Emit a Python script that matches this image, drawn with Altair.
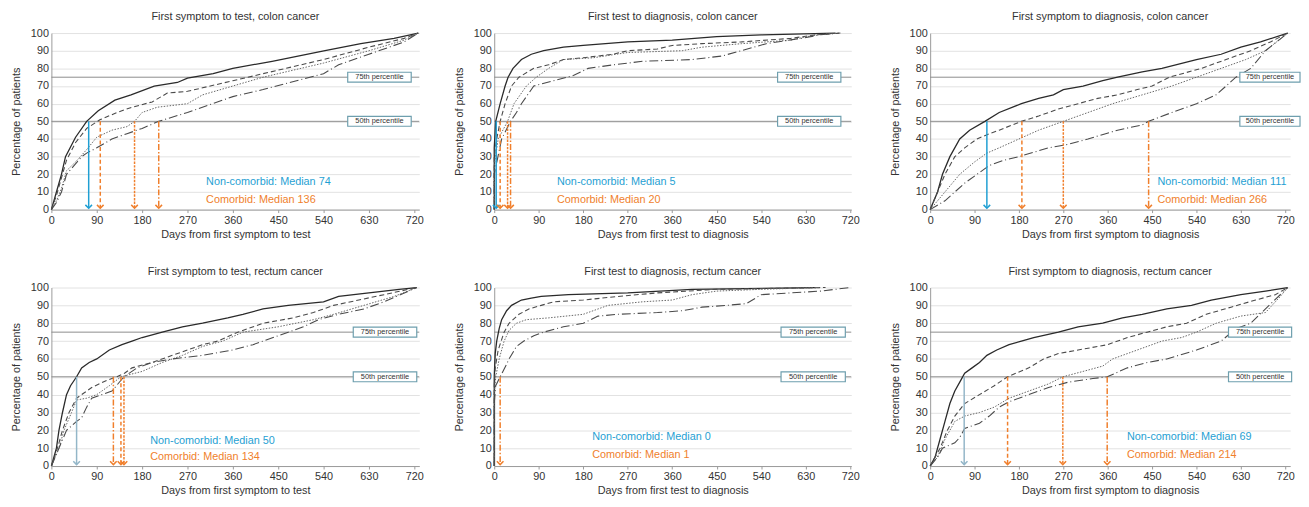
import altair as alt
import pandas as pd

FONT = "Liberation Sans"
X_TICKS = [0, 90, 180, 270, 360, 450, 540, 630, 720]
Y_TICKS = list(range(0, 101, 10))

BLUE = "#1f9fd3"
PALE_BLUE = "#93b6c8"
ORANGE = "#f07f2c"
BOX = "#6e9fae"

# ---------- curves: (day, percentage) ----------
# Panel 1: First symptom to test, colon cancer
p1_solid = [(0,0),(10,10),(20,20),(28,30),(48,41),(70,50),(93,56),(126,62),(158,65),(204,70),(250,72),(270,74.5),(321,77),(360,80),(438,84),(543,90),(614,94),(680,97),(728,100)]
p1_dashed = [(0,0),(10,8),(20,18),(30,28),(48,38),(70,46),(97,51),(130,55),(160,58),(200,61),(230,66),(270,67),(300,69),(360,73),(450,79),(540,85),(630,92),(700,97),(728,100)]
p1_dotted = [(0,0),(10,5),(20,12),(30,22),(48,27),(70,34),(90,41),(120,45),(150,47),(165,50),(180,55),(210,58),(270,60),(300,65),(360,70),(420,75),(450,77),(540,83),(630,90),(700,96),(728,100)]
p1_dashdot = [(0,0),(10,4),(20,10),(30,20),(60,30),(70,32),(90,35),(120,40),(150,43),(180,46),(213,50),(270,55),(360,64),(420,68),(500,74),(540,77),(570,82),(630,88),(700,95),(728,100)]

# Panel 2: First test to diagnosis, colon cancer
p2_solid = [(0,0),(0,35),(3,50),(12,60),(22,70),(28,75),(38,80),(55,85),(75,88),(100,90),(140,92),(180,93),(270,95),(360,96),(450,98),(540,99),(690,100)]
p2_dashed = [(0,0),(0,30),(5,40),(12,50),(22,60),(35,70),(50,75),(80,80),(110,82),(140,85),(180,86),(240,88),(270,90),(330,91),(360,93),(420,94),(500,95),(600,97),(650,99),(700,100)]
p2_dotted = [(0,0),(0,25),(8,40),(27,50),(40,60),(65,70),(85,75),(110,80),(140,85),(200,86),(270,89),(380,90),(420,92),(500,94),(600,96),(650,99),(700,100)]
p2_dashdot = [(0,0),(0,20),(15,40),(33,50),(45,55),(55,60),(80,70),(120,73),(160,76),(190,80),(240,82),(300,84),(400,85),(460,87),(500,90),(550,94),(620,97),(660,99),(700,100)]

# Panel 3: First symptom to diagnosis, colon cancer
p3_solid = [(0,0),(15,10),(25,20),(40,30),(60,40),(80,45),(111,50),(140,55),(185,60),(220,63),(250,65),(270,68),(310,70),(350,73),(380,75),(430,78),(470,80),(540,85),(590,88),(630,92),(670,95),(725,100)]
p3_dashed = [(0,0),(15,10),(30,20),(50,30),(70,35),(95,40),(120,43),(140,45),(185,50),(220,53),(260,57),(300,60),(340,63),(380,65),(420,68),(450,70),(485,75),(550,80),(600,85),(650,90),(690,95),(725,100)]
p3_dotted = [(0,0),(15,5),(30,10),(60,20),(90,27),(115,32),(140,35),(180,40),(220,45),(270,50),(320,55),(370,60),(430,65),(490,70),(540,75),(590,80),(640,85),(680,90),(725,100)]
p3_dashdot = [(0,0),(30,5),(50,10),(70,15),(95,20),(120,25),(150,28),(180,30),(240,35),(280,37),(320,40),(380,45),(430,48),(443,50),(490,55),(540,60),(580,65),(620,75),(650,80),(680,90),(725,100)]

# Panel 4: First symptom to test, rectum cancer
p4_solid = [(0,0),(10,10),(15,20),(22,30),(30,40),(38,45),(50,50),(60,55),(75,58),(90,60),(115,65),(140,68),(160,70),(180,72),(220,75),(260,78),(300,80),(350,83),(380,85),(420,88),(470,90),(540,92),(570,95),(630,97),(690,99),(725,100)]
p4_dashed = [(0,0),(12,10),(22,20),(35,30),(50,38),(60,40),(80,44),(110,48),(130,50),(145,52),(160,55),(200,58),(240,62),(270,65),(300,68),(330,70),(370,75),(420,80),(480,83),(520,86),(560,90),(610,93),(660,96),(725,100)]
p4_dotted = [(0,0),(15,10),(25,20),(40,30),(50,37),(70,38),(90,40),(115,45),(138,50),(180,53),(220,58),(260,62),(300,67),(340,70),(380,75),(450,78),(520,82),(560,85),(620,90),(680,95),(725,100)]
p4_dashdot = [(0,0),(15,10),(30,20),(50,25),(60,27),(70,33),(80,38),(100,40),(120,42),(144,50),(170,55),(200,58),(240,60),(300,62),(360,65),(400,68),(440,72),(470,75),(500,78),(530,82),(570,85),(620,88),(660,92),(725,100)]

# Panel 5: First test to diagnosis, rectum cancer
p5_solid = [(0,0),(0,50),(2,63),(5,70),(10,77),(15,82),(25,87),(35,90),(55,93),(75,94),(95,95),(150,96),(270,97),(400,99),(650,100)]
p5_dashed = [(0,0),(0,45),(2,55),(8,65),(20,75),(30,80),(50,85),(70,88),(95,90),(120,92),(180,93),(250,95),(330,97),(450,99),(670,100)]
p5_dotted = [(0,0),(0,40),(3,50),(10,60),(20,70),(30,76),(45,80),(65,82),(110,83),(180,85),(230,90),(300,92),(360,93),(400,96),(450,98),(540,99),(660,100)]
p5_dashdot = [(0,0),(0,35),(3,45),(12,50),(25,57),(30,60),(45,67),(60,70),(80,73),(100,75),(140,78),(180,80),(210,84),(250,85),(330,86),(380,87),(420,89),(470,90),(510,91),(540,96),(600,97),(660,98),(720,100)]

# Panel 6: First symptom to diagnosis, rectum cancer
p6_solid = [(0,0),(10,5),(20,15),(30,25),(40,35),(50,42),(62,48),(70,52),(85,55),(100,58),(115,62),(135,65),(160,68),(185,70),(210,72),(260,75),(300,78),(350,80),(390,83),(430,85),(480,88),(530,90),(570,93),(630,96),(680,98),(725,100)]
p6_dashed = [(0,0),(10,5),(20,10),(35,20),(50,28),(70,35),(100,40),(130,45),(157,50),(200,55),(230,60),(260,63),(300,65),(360,68),(400,72),(440,75),(480,78),(520,80),(560,85),(610,89),(660,93),(700,96),(725,100)]
p6_dotted = [(0,0),(15,5),(30,15),(50,25),(70,28),(100,30),(130,33),(160,38),(200,42),(240,46),(269,50),(310,53),(350,56),(370,60),(420,65),(470,70),(510,72),(540,75),(580,80),(630,84),(680,86),(710,95),(725,100)]
p6_dashdot = [(0,0),(15,5),(25,10),(50,13),(60,16),(70,21),(100,24),(120,28),(140,33),(160,36),(200,40),(240,44),(280,47),(330,49),(359,50),(400,55),(440,58),(480,60),(540,65),(590,70),(620,77),(650,80),(680,88),(725,100)]

# ---------- medians / annotations ----------
titles = ["First symptom to test, colon cancer", "First test to diagnosis, colon cancer",
          "First symptom to diagnosis, colon cancer", "First symptom to test, rectum cancer",
          "First test to diagnosis, rectum cancer", "First symptom to diagnosis, rectum cancer"]
x_titles = ["Days from first symptom to test", "Days from first test to diagnosis",
            "Days from first symptom to diagnosis", "Days from first symptom to test",
            "Days from first test to diagnosis", "Days from first symptom to diagnosis"]
noncomorbid_text = ["Non-comorbid: Median 74", "Non-comorbid: Median 5", "Non-comorbid: Median 111",
                    "Non-comorbid: Median 50", "Non-comorbid: Median 0", "Non-comorbid: Median 69"]
comorbid_text = ["Comorbid: Median 136", "Comorbid: Median 20", "Comorbid: Median 266",
                 "Comorbid: Median 134", "Comorbid: Median 1", "Comorbid: Median 214"]
text_x = [307, 127, 461, 196, 198, 399]
text_y_non = [15.5, 15.5, 15.5, 14, 16, 16.5]
text_y_com = [5.6, 5.6, 5.6, 5, 6.4, 6.4]
blue_arrow_x = [74, 4, 115, 50, None, 69]
blue_arrow_color = [BLUE, BLUE, BLUE, PALE_BLUE, BLUE, PALE_BLUE]
# orange arrows: (day, style)
orange_arrows = [
    [(97, "dashed"), (165, "dotted"), (213, "dashdot")],
    [(12, "dashed"), (27, "dotted"), (33, "dashdot")],
    [(186, "dashed"), (270, "dotted"), (443, "dashdot")],
    [(123, "dashdot"), (138, "dashed"), (144, "dotted")],
    [(12, "dashdot")],
    [(157, "dashed"), (269, "dotted"), (359, "dashdot")],
]
box_x = [(588, 714), (573, 701), (628, 750), (599, 725), (580, 710), (605, 733)]
x_max = [730, 722, 730, 730, 722, 730]
widths = [373, 362, 365, 373, 362, 365]
heights = [179, 179, 179, 181, 181, 181]

curves = [
    [p1_solid, p1_dashed, p1_dotted, p1_dashdot],
    [p2_solid, p2_dashed, p2_dotted, p2_dashdot],
    [p3_solid, p3_dashed, p3_dotted, p3_dashdot],
    [p4_solid, p4_dashed, p4_dotted, p4_dashdot],
    [p5_solid, p5_dashed, p5_dotted, p5_dashdot],
    [p6_solid, p6_dashed, p6_dotted, p6_dashdot],
]

LINE_STYLES = [
    dict(color="#2a2a2a", strokeWidth=1.3),
    dict(color="#4a4a4a", strokeWidth=1.1, strokeDash=[5, 3]),
    dict(color="#666666", strokeWidth=1.0, strokeDash=[1.5, 1.5]),
    dict(color="#4a4a4a", strokeWidth=1.1, strokeDash=[9, 3, 1, 3]),
]
ARROW_DASH = {"dashed": [4, 2.5], "dotted": [2.5, 1.2], "dashdot": [6, 2, 1.5, 2]}
CHEVRON = "M-1,-1L0,0L1,-1"


def make_panel(i):
    xs = alt.Scale(domain=[0, x_max[i]], nice=False, zero=False)
    ys = alt.Scale(domain=[0, 100], nice=False)
    xax = alt.Axis(values=X_TICKS, grid=False, title=x_titles[i], labelFlush=False,
                   tickSize=3, tickColor="#999", domainColor="#999", labelPadding=2, titlePadding=3)
    yax = alt.Axis(values=Y_TICKS, grid=True, gridColor="#e2e2e2", title="Percentage of patients",
                   ticks=False, domainColor="#999", labelPadding=3, titlePadding=9)
    layers = []

    # reference lines at 50 and 75
    ref = pd.DataFrame({"p": [50, 75]})
    layers.append(alt.Chart(ref).mark_rule(color="#8c8c8c", strokeWidth=1).encode(
        x=alt.value(0), x2=alt.value(widths[i]), y=alt.Y("p:Q", scale=ys, axis=yax)))

    # curves
    for k, pts in enumerate(curves[i]):
        df = pd.DataFrame(pts, columns=["day", "pct"])
        df["o"] = range(len(df))
        layers.append(alt.Chart(df).mark_line(**LINE_STYLES[k]).encode(
            x=alt.X("day:Q", scale=xs, axis=xax),
            y=alt.Y("pct:Q", scale=ys, axis=yax),
            order="o:Q"))

    # arrows
    arrows = []
    if blue_arrow_x[i] is not None:
        arrows.append((blue_arrow_x[i], blue_arrow_color[i], None))
    for d, st in orange_arrows[i]:
        arrows.append((d, ORANGE, ARROW_DASH[st]))
    for d, col, dash in arrows:
        adf = pd.DataFrame({"d": [d], "top": [50], "bot": [0.8]})
        kw = dict(color=col, strokeWidth=1.5)
        if dash:
            kw["strokeDash"] = dash
        layers.append(alt.Chart(adf).mark_rule(**kw).encode(
            x=alt.X("d:Q", scale=xs, axis=xax), y=alt.Y("top:Q", scale=ys, axis=yax), y2="bot:Q"))
        layers.append(alt.Chart(adf).mark_point(shape=CHEVRON, size=45, filled=False,
                                                color=col, strokeWidth=1.5, opacity=1).encode(
            x=alt.X("d:Q", scale=xs, axis=xax), y=alt.Y("bot:Q", scale=ys, axis=yax)))

    # percentile boxes
    bx1, bx2 = box_x[i]
    bdf = pd.DataFrame({"x1": [bx1, bx1], "x2": [bx2, bx2], "y1": [72.2, 47.2], "y2": [77.8, 52.8],
                        "xc": [(bx1 + bx2) / 2] * 2, "yc": [75, 50],
                        "label": ["75th percentile", "50th percentile"]})
    layers.append(alt.Chart(bdf).mark_rect(fill="white", stroke=BOX, strokeWidth=1.2).encode(
        x=alt.X("x1:Q", scale=xs, axis=xax), x2="x2:Q",
        y=alt.Y("y1:Q", scale=ys, axis=yax), y2="y2:Q"))
    layers.append(alt.Chart(bdf).mark_text(fontSize=7.5, color="#333", font=FONT).encode(
        x=alt.X("xc:Q", scale=xs, axis=xax), y=alt.Y("yc:Q", scale=ys, axis=yax), text="label:N"))

    # median texts
    tdf = pd.DataFrame({"x": [text_x[i], text_x[i]], "y": [text_y_non[i], text_y_com[i]],
                        "t": [noncomorbid_text[i], comorbid_text[i]], "c": [BLUE, ORANGE]})
    layers.append(alt.Chart(tdf).mark_text(align="left", baseline="middle", fontSize=11, font=FONT).encode(
        x=alt.X("x:Q", scale=xs, axis=xax), y=alt.Y("y:Q", scale=ys, axis=yax), text="t:N",
        color=alt.Color("c:N", scale=None)))

    return alt.layer(*layers).properties(
        width=widths[i], height=heights[i],
        title=alt.TitleParams(titles[i], fontSize=11, fontWeight="normal", color="#333",
                              font=FONT, frame="group", anchor="middle", offset=5))


row1 = alt.hconcat(make_panel(0), make_panel(1), make_panel(2), spacing=29)
row2 = alt.hconcat(make_panel(3), make_panel(4), make_panel(5), spacing=29)
chart = (alt.vconcat(row1, row2, spacing=27)
         .configure(padding={"left": 2, "top": 0, "right": 0, "bottom": 0})
         .configure_view(stroke=None)
         .configure_axis(labelFont=FONT, titleFont=FONT, labelFontSize=11, titleFontSize=11,
                         titleFontWeight="normal", labelColor="#333", titleColor="#333"))

chart.save("out.html", embed_options={"renderer": "svg", "actions": False})
